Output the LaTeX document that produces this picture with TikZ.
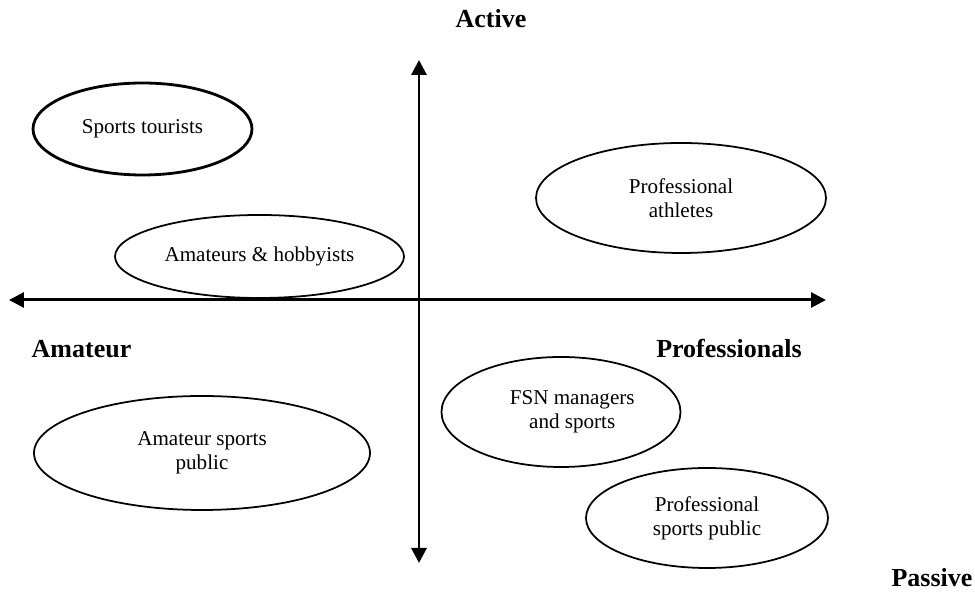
\documentclass[tikz,border=0pt]{standalone}
\usepackage{fontspec}
\setmainfont{Liberation Serif}
\usepackage{tikz}
\usetikzlibrary{arrows.meta, shapes.geometric}

\tikzset{
	axis/.style={line width=1.7pt, {Triangle[length=0.3cm,width=0.3cm]}-{Triangle[length=0.3cm,width=0.3cm]}},
	group/.style={draw, ellipse, line width=1pt, inner sep=0pt, align=center, font=\fontsize{12}{13.5}\selectfont},
	axislabel/.style={anchor=base, font=\fontsize{14.8}{17}\selectfont\bfseries}
}

\begin{document}
\begin{tikzpicture}
		\useasboundingbox (0,0) rectangle (19.5,11.84);
%		\draw[step=1cm, thin, gray] (0,0) grid (19.5,11.84);
		\coordinate (top) at (8.38,10.64);
		\coordinate (bottom) at (8.38,0.58);
		\coordinate (left) at (0.18,5.84);
		\coordinate (right) at (16.52,5.84);
		\draw[axis] (bottom) -- (top);
		\draw[axis] (left) -- (right);
		\node[axislabel] (active) at (9.82,11.28){Active};
		\node[axislabel] (amateur) at (1.63,4.68){Amateur};
		\node[axislabel] (pros) at (14.58,4.68){Professionals};
		\node[axislabel] (passive) at (18.64,0.10){Passive};
		\node[group, line width=1.6pt, minimum width=4.38cm, minimum height=1.84cm] (tourists) at (2.85,9.26){Sports tourists};
		\node[group, minimum width=5.78cm, minimum height=1.66cm] (hobbyists) at (5.19,6.71){Amateurs \& hobbyists};
		\node[group, minimum width=5.8cm, minimum height=2.2cm] (athletes) at (13.62,7.88){Professional\\athletes};
		\node[group, minimum width=4.78cm, minimum height=2.2cm] (fsn) at (11.22,3.60){\hspace*{0.45cm}FSN managers\\\hspace*{0.45cm}and sports};
		\node[group, minimum width=6.72cm, minimum height=2.28cm] (amapublic) at (4.04,2.78){Amateur sports\\public};
		\node[group, minimum width=4.84cm, minimum height=2.0cm] (propublic) at (14.14,1.48){Professional\\sports public};
	\end{tikzpicture}
\end{document}
